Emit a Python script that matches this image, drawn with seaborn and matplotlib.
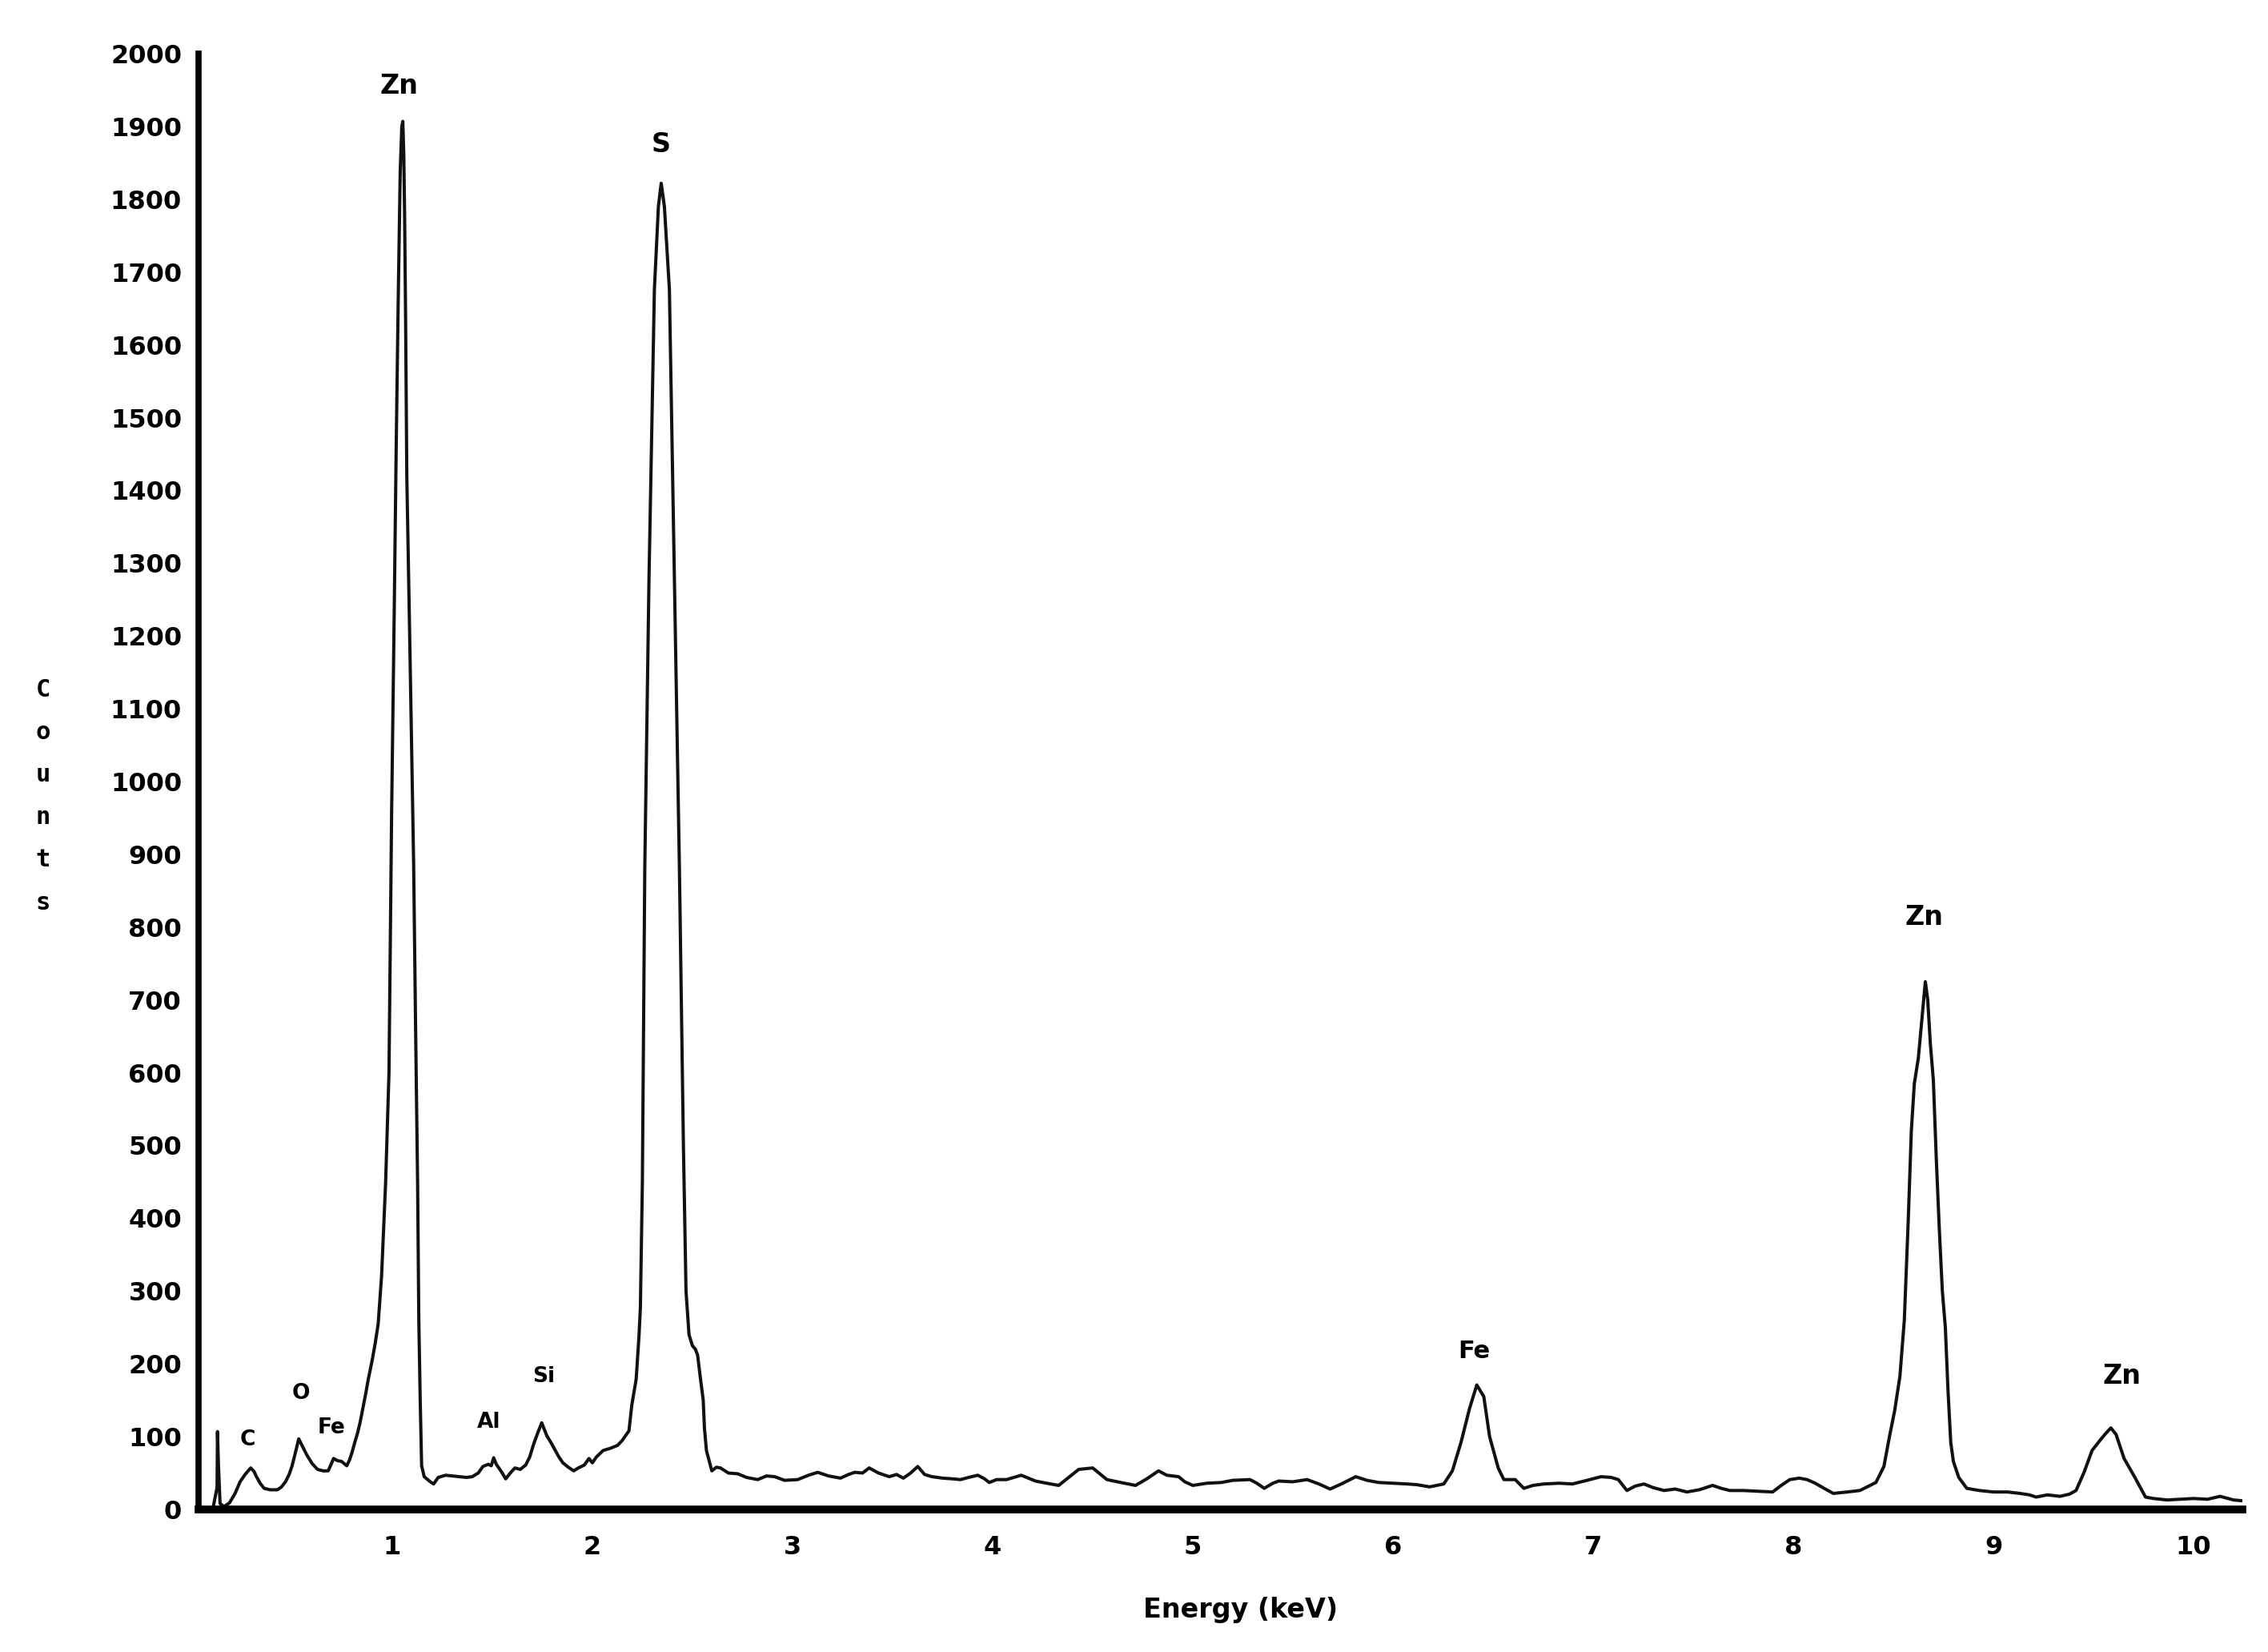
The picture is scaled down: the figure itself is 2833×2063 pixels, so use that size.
import numpy as np
import pandas as pd
import matplotlib
matplotlib.use('Agg')
import matplotlib.pyplot as plt
import seaborn as sns

# spectrum (keV, counts)
energy = [0.107, 0.125, 0.127, 0.132, 0.14, 0.16, 0.187, 0.215, 0.24, 0.265,
          0.293, 0.31, 0.32, 0.34, 0.36, 0.39, 0.427, 0.447, 0.467, 0.485,
          0.5, 0.52, 0.533, 0.553, 0.573, 0.6, 0.627, 0.655, 0.68, 0.695,
          0.707, 0.727, 0.747, 0.76, 0.773, 0.787, 0.8, 0.813, 0.827, 0.84,
          0.853, 0.867, 0.88, 0.9, 0.915, 0.93, 0.947, 0.967, 0.984, 0.997,
          1.01, 1.02, 1.03, 1.04, 1.048, 1.053, 1.058, 1.062, 1.067, 1.073,
          1.08, 1.087, 1.097, 1.107, 1.117, 1.127, 1.133, 1.14, 1.147, 1.16,
          1.173, 1.19, 1.207, 1.23, 1.267, 1.3, 1.333, 1.37, 1.4, 1.43,
          1.453, 1.48, 1.495, 1.507, 1.52, 1.533, 1.55, 1.567, 1.59, 1.613,
          1.64, 1.667, 1.687, 1.707, 1.727, 1.747, 1.76, 1.773, 1.793, 1.813,
          1.833, 1.853, 1.88, 1.907, 1.93, 1.96, 1.983, 2.0, 2.02, 2.054,
          2.09, 2.126, 2.15, 2.183, 2.197, 2.219, 2.233, 2.24, 2.25, 2.262,
          2.283, 2.31, 2.33, 2.344, 2.36, 2.385, 2.41, 2.435, 2.455, 2.468,
          2.483, 2.5, 2.515, 2.526, 2.54, 2.554, 2.56, 2.57, 2.597, 2.62,
          2.64, 2.68, 2.726, 2.77, 2.826, 2.87, 2.911, 2.96, 3.026, 3.08,
          3.126, 3.18, 3.24, 3.28, 3.311, 3.35, 3.383, 3.43, 3.483, 3.52,
          3.554, 3.59, 3.626, 3.66, 3.697, 3.75, 3.8, 3.84, 3.88, 3.926,
          3.96, 3.983, 4.02, 4.069, 4.143, 4.214, 4.27, 4.33, 4.38, 4.43,
          4.5, 4.54, 4.571, 4.64, 4.714, 4.77, 4.829, 4.87, 4.929, 4.96,
          5.0, 5.07, 5.143, 5.2, 5.286, 5.32, 5.357, 5.4, 5.429, 5.5,
          5.571, 5.63, 5.686, 5.75, 5.814, 5.87, 5.929, 6.0, 6.071, 6.12,
          6.183, 6.254, 6.297, 6.34, 6.383, 6.419, 6.454, 6.483, 6.526, 6.554,
          6.611, 6.654, 6.7, 6.754, 6.83, 6.897, 6.97, 7.04, 7.09, 7.126,
          7.169, 7.21, 7.254, 7.3, 7.354, 7.41, 7.469, 7.53, 7.597, 7.64,
          7.683, 7.75, 7.82, 7.897, 7.94, 7.983, 8.03, 8.069, 8.11, 8.154,
          8.2, 8.27, 8.333, 8.413, 8.453, 8.48, 8.507, 8.533, 8.555, 8.575,
          8.59, 8.605, 8.625, 8.645, 8.66, 8.672, 8.685, 8.7, 8.715, 8.73,
          8.745, 8.76, 8.773, 8.787, 8.8, 8.827, 8.867, 8.93, 9.0, 9.07,
          9.133, 9.18, 9.213, 9.27, 9.333, 9.38, 9.413, 9.453, 9.493, 9.533,
          9.56, 9.587, 9.613, 9.653, 9.707, 9.76, 9.8, 9.867, 9.93, 10.0,
          10.07, 10.133, 10.2, 10.24]
counts = [5, 30, 107, 60, 8, 4, 9, 22, 38, 48,
          57, 52, 46, 36, 29, 27, 27, 31, 38, 48,
          60, 82, 97, 86, 75, 63, 55, 53, 53, 62,
          70, 67, 66, 63, 60, 68, 79, 92, 105, 120,
          138, 158, 178, 205, 228, 255, 321, 448, 600, 954,
          1230, 1459, 1660, 1837, 1900, 1907, 1860, 1780, 1636, 1420,
          1310, 1206, 1050, 890, 660, 448, 260, 150, 60, 45,
          42, 38, 35, 44, 47, 46, 45, 44, 45, 50,
          59, 62, 60, 71, 62, 57, 50, 42, 50, 57,
          55, 61, 72, 90, 105, 119, 110, 101, 92, 82,
          72, 64, 58, 53, 57, 61, 70, 64, 72, 81,
          84, 88, 95, 108, 143, 179, 238, 277, 450, 881,
          1278, 1676, 1790, 1822, 1790, 1676, 1278, 881, 500, 300,
          240, 225, 220, 212, 180, 150, 112, 81, 53, 58,
          57, 50, 49, 44, 41, 46, 45, 40, 41, 47,
          51, 46, 43, 48, 51, 50, 57, 50, 45, 48,
          43, 50, 59, 48, 45, 43, 42, 41, 44, 47,
          42, 37, 41, 41, 47, 39, 36, 33, 44, 55,
          57, 48, 41, 37, 33, 42, 53, 47, 45, 38,
          33, 36, 37, 40, 41, 36, 29, 36, 39, 38,
          41, 35, 28, 36, 45, 40, 37, 36, 35, 34,
          31, 35, 53, 92, 139, 171, 155, 100, 57, 41,
          41, 29, 33, 35, 36, 35, 40, 45, 44, 41,
          26, 32, 35, 30, 26, 28, 24, 27, 33, 29,
          26, 26, 25, 24, 33, 41, 43, 41, 36, 29,
          22, 24, 26, 37, 59, 99, 136, 183, 260, 400,
          520, 585, 620, 680, 725, 700, 640, 590, 480, 384,
          300, 250, 165, 92, 66, 44, 29, 26, 24, 24,
          22, 20, 17, 20, 18, 21, 26, 51, 81, 95,
          104, 112, 103, 70, 44, 17, 15, 13, 14, 15,
          14, 18, 13, 12]

# element labels and where they sit
peak_names = ['Zn', 'S', 'C', 'O', 'Fe', 'Al', 'Si', 'Fe', 'Zn', 'Zn']
peak_x = [1.035, 2.343, 0.276, 0.543, 0.695, 1.483, 1.757, 6.405, 8.653, 9.643]
peak_y = [1955, 1875, 96, 160, 112, 120, 183, 217, 813, 183]
peak_size = [24, 24, 19, 19, 19, 19, 19, 22, 24, 24]

df = pd.DataFrame({'Energy': energy, 'Counts': counts})

sns.set_style('white')
plt.rcParams['font.family'] = ['DejaVu Sans']
plt.rcParams['text.color'] = 'black'
plt.rcParams['axes.labelcolor'] = 'black'

fig = plt.figure(figsize=(28.33, 20.63), dpi=100)
ax = fig.add_axes([0.0875, 0.0863, 0.9012, 0.8812])

sns.lineplot(data=df, x='Energy', y='Counts', ax=ax, color='#111111',
             linewidth=2.9, estimator=None, sort=False)

ax.set_xlim(0.032, 10.244)
ax.set_ylim(0, 2000)

ax.set_yticks(np.arange(0, 2001, 100))
ax.set_xticks(np.arange(1, 11, 1))
ax.tick_params(axis='both', direction='out', length=9, width=2, colors='black',
               labelsize=23, pad=6)
for lab in ax.get_xticklabels() + ax.get_yticklabels():
    lab.set_fontweight('bold')
ax.tick_params(axis='x', pad=14)

for side in ['top', 'right']:
    ax.spines[side].set_visible(False)
ax.spines['left'].set_linewidth(5.5)
ax.spines['bottom'].set_linewidth(7)
ax.spines['left'].set_color('black')
ax.spines['bottom'].set_color('black')

ax.set_xlabel('Energy (keV)', fontsize=24, fontweight='bold', color='black')
ax.xaxis.set_label_coords(0.51, -0.06)
ax.set_ylabel('C\no\nu\nn\nt\ns', fontsize=22, fontweight='bold', rotation=0,
              family='DejaVu Sans Mono', linespacing=2.05, va='center', ha='center',
              color='black')
ax.yaxis.set_label_coords(-0.076, 0.49)

for name, x, y, s in zip(peak_names, peak_x, peak_y, peak_size):
    ax.text(x, y, name, fontsize=s, fontweight='bold', ha='center', va='center',
            color='black')

plt.savefig('out.png', dpi=100, facecolor='white')
